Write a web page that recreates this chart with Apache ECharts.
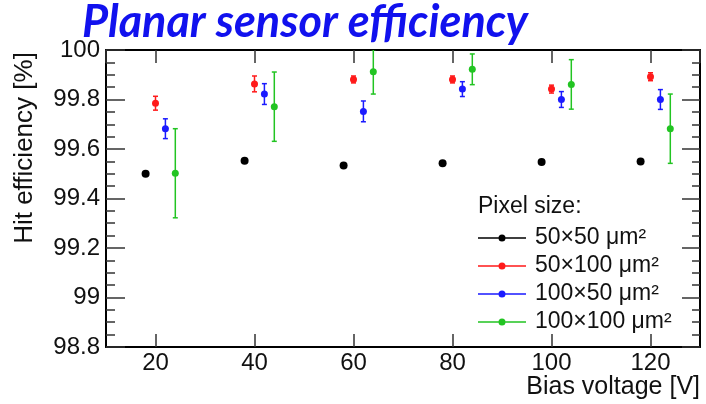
<!DOCTYPE html>
<html>
<head>
<meta charset="utf-8">
<script src="https://cdn.jsdelivr.net/npm/echarts@6/dist/echarts.min.js"></script>
<style>html,body{margin:0;padding:0;background:#fff}#c{width:706px;height:404px}</style>
</head>
<body>
<div id="c"></div>
<script>
// ---- data ----
const seriesNames = ['50×50 μm²', '50×100 μm²', '100×50 μm²', '100×100 μm²'];
const xBlack = [18, 38, 58, 78, 98, 118];
const yBlack = [99.500, 99.553, 99.533, 99.542, 99.547, 99.549];
const xRed = [20, 40, 60, 80, 100, 120];
const yRed = [99.785, 99.863, 99.881, 99.881, 99.842, 99.892];
const eRed = [0.028, 0.032, 0.014, 0.014, 0.016, 0.016];
const xBlue = [22, 42, 62, 82, 102, 122];
const yBlue = [99.682, 99.822, 99.752, 99.842, 99.800, 99.800];
const eBlue = [0.040, 0.042, 0.042, 0.030, 0.032, 0.040];
const xGreen = [24, 44, 64, 84, 104, 124];
const yGreen = [99.502, 99.771, 99.912, 99.922, 99.861, 99.682];
const eGreen = [0.180, 0.140, 0.090, 0.062, 0.100, 0.140];
const yTicks = [98.8, 99, 99.2, 99.4, 99.6, 99.8, 100];
const xTicks = [20, 40, 60, 80, 100, 120];

const colors = ['#000000', '#ff1a1a', '#1a1aff', '#22c422'];
const font = 'Liberation Sans';

function pts(xs, ys) { return xs.map((x, i) => [x, ys[i]]); }
function errPts(xs, ys, es) { return xs.map((x, i) => [x, ys[i], es[i]]); }

function errSeries(name, data, color) {
  return {
    type: 'custom', name: name, data: data, z: 3, clip: true,
    itemStyle: { color: color },
    encode: { x: 0, y: 1 },
    renderItem: function (params, api) {
      const x = api.value(0), y = api.value(1), e = api.value(2);
      const t = api.coord([x, y + e]);
      const b = api.coord([x, y - e]);
      const hw = 2.5;
      const st = { stroke: color, lineWidth: 1.5 };
      return { type: 'group', children: [
        { type: 'line', shape: { x1: t[0], y1: t[1], x2: b[0], y2: b[1] }, style: st },
        { type: 'line', shape: { x1: t[0] - hw, y1: t[1], x2: t[0] + hw, y2: t[1] }, style: st },
        { type: 'line', shape: { x1: b[0] - hw, y1: b[1], x2: b[0] + hw, y2: b[1] }, style: st }
      ]};
    }
  };
}
function scat(name, data, color, size) {
  return { type: 'scatter', name: name, data: data, symbol: 'circle', symbolSize: size, z: 5,
    itemStyle: { color: color, opacity: 1 } };
}

const legendIcon = 'path://M0,4.3 L48,4.3 L48,5.7 L0,5.7 Z M24,1.5 A3.5,3.5 0 1 1 24,8.5 A3.5,3.5 0 1 1 24,1.5 Z';

const axisLineStyle = { color: '#000', width: 2 };
const tickStyle = { color: '#333', width: 1.5 };

const option = {
  backgroundColor: '#fff',
  animation: false,
  color: colors,
  grid: { left: 106, right: 6, top: 50, bottom: 57, containLabel: false },
  xAxis: [
    { type: 'value', min: 10, max: 130, splitNumber: 6, position: 'bottom',
      axisLine: { show: true, lineStyle: axisLineStyle },
      axisTick: { show: true, inside: true, length: 13, lineStyle: tickStyle },
      axisLabel: { show: true, showMinLabel: false, showMaxLabel: false, margin: 4,
        fontFamily: font, fontSize: 24, color: '#111' },
      splitLine: { show: false } },
    { type: 'value', min: 10, max: 130, splitNumber: 6, position: 'top',
      axisLine: { show: true, lineStyle: axisLineStyle },
      axisTick: { show: true, inside: true, length: 13, lineStyle: tickStyle },
      axisLabel: { show: false }, splitLine: { show: false } }
  ],
  yAxis: [
    { type: 'value', min: yTicks[0], max: yTicks[yTicks.length - 1], interval: 0.2, position: 'left',
      axisLine: { show: true, lineStyle: axisLineStyle },
      axisTick: { show: true, inside: true, length: 19, lineStyle: tickStyle },
      minorTick: { show: true, splitNumber: 4, length: 9, lineStyle: tickStyle },
      axisLabel: { show: true, margin: 6, fontFamily: font, fontSize: 24, color: '#111',
        formatter: function (v) { return String(Math.round(v * 10) / 10); } },
      splitLine: { show: false } },
    { type: 'value', min: yTicks[0], max: yTicks[yTicks.length - 1], interval: 0.2, position: 'right',
      axisLine: { show: true, lineStyle: axisLineStyle },
      axisTick: { show: true, inside: true, length: 18, lineStyle: tickStyle },
      minorTick: { show: true, splitNumber: 4, length: 8, lineStyle: tickStyle },
      axisLabel: { show: false }, splitLine: { show: false } }
  ],
  legend: {
    orient: 'vertical', left: 473, top: 221, itemWidth: 48, itemHeight: 10, itemGap: 4,
    selectedMode: false,
    data: seriesNames.map((n, i) => ({ name: n, icon: legendIcon, itemStyle: { color: colors[i] } })),
    textStyle: { fontFamily: font, fontSize: 23, lineHeight: 24, color: '#111', padding: [0, 0, 0, 4] }
  },
  graphic: [
    { type: 'text', left: 82, top: 0, z: 10,
      style: { text: 'Planar sensor efficiency', fontFamily: 'Lato', fontStyle: 'italic', fontWeight: 'bold',
        fontSize: 45, fill: '#1111ee' } },
    { type: 'text', x: 478, y: 207, z: 10,
      style: { text: 'Pixel size:', fontFamily: font, fontSize: 23, fill: '#111', verticalAlign: 'middle' } },
    { type: 'text', x: 700, y: 387, z: 10,
      style: { text: 'Bias voltage [V]', fontFamily: font, fontSize: 25, fill: '#111', align: 'right', verticalAlign: 'middle' } },
    { type: 'text', x: 25, y: 148, rotation: Math.PI / 2, z: 10,
      style: { text: 'Hit efficiency [%]', fontFamily: font, fontSize: 26, fill: '#111', align: 'center', verticalAlign: 'middle' } }
  ],
  series: [
    scat(seriesNames[0], pts(xBlack, yBlack), colors[0], 8),
    errSeries(seriesNames[1], errPts(xRed, yRed, eRed), colors[1]),
    scat(seriesNames[1], pts(xRed, yRed), colors[1], 7),
    errSeries(seriesNames[2], errPts(xBlue, yBlue, eBlue), colors[2]),
    scat(seriesNames[2], pts(xBlue, yBlue), colors[2], 7),
    errSeries(seriesNames[3], errPts(xGreen, yGreen, eGreen), colors[3]),
    scat(seriesNames[3], pts(xGreen, yGreen), colors[3], 7)
  ]
};

const chart = echarts.init(document.getElementById('c'), null, { renderer: 'canvas' });
chart.setOption(option);
</script>
</body>
</html>
